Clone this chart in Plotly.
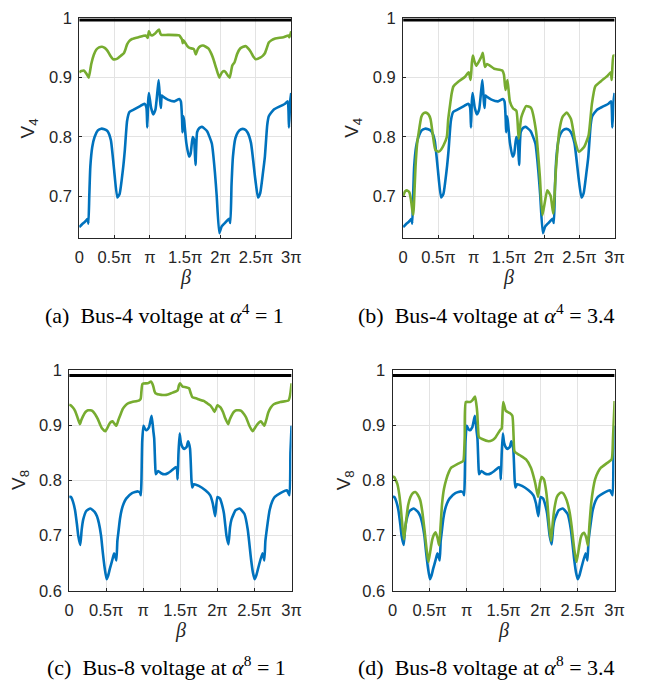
import plotly.graph_objects as go

# beta values are in units of pi
blue4_beta = [0.0, 0.04, 0.08, 0.12, 0.13, 0.142, 0.157, 0.184, 0.217, 0.263, 0.31, 0.355, 0.40, 0.447, 0.493, 0.539, 0.571, 0.618, 0.645, 0.677, 0.71, 0.77, 0.862, 0.922, 0.95, 0.963, 0.975, 0.986, 1.015, 1.046, 1.078, 1.105, 1.124, 1.145, 1.155, 1.168, 1.184, 1.253, 1.346, 1.415, 1.438, 1.455, 1.461, 1.472, 1.484, 1.515, 1.553, 1.576, 1.605, 1.625, 1.645, 1.668, 1.70, 1.737, 1.807, 1.876, 1.92, 1.945, 1.982, 2.014, 2.06, 2.12, 2.138, 2.155, 2.175, 2.21, 2.245, 2.29, 2.337, 2.38, 2.43, 2.49, 2.53, 2.56, 2.60, 2.627, 2.66, 2.682, 2.751, 2.83, 2.913, 2.95, 2.968, 2.985, 3.0]
blue4_v = [0.648, 0.653, 0.657, 0.662, 0.654, 0.70, 0.75, 0.783, 0.80, 0.811, 0.814, 0.813, 0.81, 0.795, 0.745, 0.698, 0.704, 0.745, 0.778, 0.827, 0.842, 0.846, 0.852, 0.856, 0.85, 0.816, 0.86, 0.874, 0.85, 0.838, 0.846, 0.875, 0.896, 0.86, 0.849, 0.87, 0.868, 0.863, 0.86, 0.864, 0.86, 0.83, 0.808, 0.835, 0.828, 0.79, 0.767, 0.772, 0.80, 0.795, 0.753, 0.808, 0.815, 0.817, 0.81, 0.789, 0.74, 0.701, 0.638, 0.649, 0.655, 0.662, 0.655, 0.72, 0.767, 0.798, 0.808, 0.813, 0.813, 0.808, 0.79, 0.73, 0.698, 0.705, 0.74, 0.767, 0.82, 0.835, 0.846, 0.851, 0.856, 0.86, 0.816, 0.86, 0.874]

green4a_beta = [0.0, 0.03, 0.065, 0.10, 0.134, 0.17, 0.205, 0.24, 0.28, 0.323, 0.36, 0.40, 0.44, 0.479, 0.539, 0.59, 0.631, 0.655, 0.677, 0.71, 0.747, 0.839, 0.94, 0.968, 0.986, 1.005, 1.032, 1.069, 1.129, 1.145, 1.161, 1.253, 1.415, 1.44, 1.455, 1.465, 1.475, 1.53, 1.56, 1.622, 1.65, 1.677, 1.715, 1.751, 1.79, 1.83, 1.87, 1.899, 1.94, 1.982, 2.005, 2.028, 2.05, 2.074, 2.10, 2.129, 2.165, 2.198, 2.235, 2.277, 2.32, 2.36, 2.40, 2.429, 2.465, 2.498, 2.567, 2.6, 2.627, 2.655, 2.682, 2.72, 2.774, 2.89, 2.959, 2.973, 3.0]
green4a_v = [0.909, 0.911, 0.912, 0.907, 0.90, 0.923, 0.938, 0.947, 0.951, 0.952, 0.95, 0.945, 0.937, 0.931, 0.932, 0.937, 0.941, 0.948, 0.956, 0.962, 0.965, 0.968, 0.971, 0.967, 0.978, 0.973, 0.971, 0.974, 0.981, 0.975, 0.972, 0.972, 0.971, 0.967, 0.964, 0.958, 0.963, 0.953, 0.95, 0.948, 0.939, 0.948, 0.953, 0.954, 0.952, 0.949, 0.94, 0.931, 0.915, 0.90, 0.906, 0.91, 0.911, 0.909, 0.904, 0.90, 0.92, 0.926, 0.94, 0.949, 0.952, 0.953, 0.948, 0.943, 0.935, 0.931, 0.934, 0.937, 0.941, 0.95, 0.959, 0.963, 0.966, 0.968, 0.971, 0.968, 0.978]

green4b_beta = [0.0, 0.025, 0.051, 0.088, 0.11, 0.134, 0.145, 0.155, 0.176, 0.2, 0.218, 0.259, 0.29, 0.324, 0.36, 0.389, 0.42, 0.458, 0.505, 0.54, 0.574, 0.62, 0.64, 0.667, 0.69, 0.713, 0.782, 0.875, 0.93, 0.958, 0.975, 0.99, 1.01, 1.037, 1.074, 1.11, 1.13, 1.15, 1.162, 1.19, 1.292, 1.407, 1.43, 1.452, 1.48, 1.514, 1.56, 1.607, 1.639, 1.676, 1.745, 1.814, 1.884, 1.939, 1.976, 2.045, 2.092, 2.129, 2.17, 2.216, 2.262, 2.322, 2.382, 2.438, 2.493, 2.567, 2.631, 2.677, 2.724, 2.807, 2.899, 2.945, 2.959, 2.982, 3.0]
green4b_v = [0.70, 0.708, 0.71, 0.707, 0.695, 0.674, 0.669, 0.69, 0.75, 0.79, 0.805, 0.834, 0.84, 0.841, 0.838, 0.83, 0.805, 0.778, 0.775, 0.779, 0.786, 0.80, 0.83, 0.855, 0.874, 0.885, 0.893, 0.901, 0.909, 0.896, 0.925, 0.937, 0.928, 0.92, 0.927, 0.935, 0.942, 0.925, 0.918, 0.923, 0.915, 0.912, 0.905, 0.879, 0.896, 0.86, 0.848, 0.844, 0.797, 0.833, 0.852, 0.849, 0.811, 0.734, 0.668, 0.71, 0.701, 0.671, 0.75, 0.811, 0.834, 0.841, 0.83, 0.794, 0.775, 0.783, 0.803, 0.855, 0.885, 0.894, 0.903, 0.909, 0.896, 0.937, 0.937]

blue8_beta = [0.0, 0.022, 0.05, 0.079, 0.105, 0.123, 0.15, 0.168, 0.189, 0.233, 0.286, 0.343, 0.375, 0.40, 0.43, 0.453, 0.48, 0.505, 0.525, 0.549, 0.58, 0.606, 0.622, 0.637, 0.65, 0.663, 0.685, 0.707, 0.735, 0.769, 0.848, 0.927, 0.955, 0.967, 0.975, 0.985, 1.002, 1.025, 1.046, 1.076, 1.112, 1.135, 1.147, 1.16, 1.169, 1.2, 1.24, 1.287, 1.33, 1.375, 1.441, 1.455, 1.463, 1.475, 1.49, 1.507, 1.529, 1.551, 1.586, 1.604, 1.63, 1.65, 1.661, 1.683, 1.749, 1.837, 1.903, 1.938, 1.969, 2.0, 2.035, 2.06, 2.088, 2.123, 2.149, 2.17, 2.189, 2.246, 2.299, 2.365, 2.409, 2.453, 2.48, 2.502, 2.525, 2.554, 2.607, 2.62, 2.633, 2.647, 2.66, 2.704, 2.74, 2.774, 2.849, 2.937, 2.972, 2.985, 3.0]
blue8_v = [0.77, 0.77, 0.762, 0.746, 0.72, 0.699, 0.683, 0.71, 0.729, 0.745, 0.749, 0.743, 0.735, 0.723, 0.70, 0.67, 0.64, 0.621, 0.627, 0.64, 0.655, 0.668, 0.662, 0.655, 0.69, 0.705, 0.73, 0.746, 0.758, 0.767, 0.777, 0.78, 0.778, 0.773, 0.80, 0.87, 0.899, 0.893, 0.891, 0.896, 0.917, 0.89, 0.876, 0.83, 0.811, 0.817, 0.813, 0.811, 0.813, 0.817, 0.824, 0.82, 0.802, 0.85, 0.885, 0.868, 0.86, 0.857, 0.861, 0.871, 0.858, 0.80, 0.787, 0.793, 0.79, 0.782, 0.773, 0.758, 0.735, 0.77, 0.767, 0.757, 0.74, 0.699, 0.684, 0.715, 0.729, 0.746, 0.749, 0.739, 0.711, 0.658, 0.632, 0.621, 0.628, 0.643, 0.668, 0.662, 0.655, 0.69, 0.705, 0.746, 0.762, 0.77, 0.777, 0.782, 0.773, 0.85, 0.899]

green8c_beta = [0.0, 0.022, 0.05, 0.079, 0.11, 0.145, 0.165, 0.189, 0.22, 0.255, 0.285, 0.312, 0.35, 0.387, 0.415, 0.444, 0.488, 0.515, 0.54, 0.565, 0.584, 0.61, 0.637, 0.665, 0.694, 0.725, 0.76, 0.8, 0.848, 0.945, 0.965, 0.975, 0.989, 1.059, 1.103, 1.12, 1.134, 1.15, 1.164, 1.243, 1.31, 1.375, 1.463, 1.48, 1.495, 1.53, 1.573, 1.617, 1.64, 1.661, 1.727, 1.815, 1.87, 1.903, 1.935, 1.96, 1.98, 2.0, 2.044, 2.075, 2.101, 2.145, 2.165, 2.189, 2.22, 2.255, 2.29, 2.321, 2.36, 2.387, 2.431, 2.475, 2.51, 2.541, 2.585, 2.61, 2.633, 2.66, 2.686, 2.72, 2.76, 2.849, 2.959, 2.981, 3.0]
green8c_v = [0.937, 0.936, 0.932, 0.926, 0.915, 0.902, 0.91, 0.917, 0.924, 0.927, 0.927, 0.926, 0.92, 0.911, 0.902, 0.894, 0.889, 0.895, 0.902, 0.906, 0.907, 0.903, 0.899, 0.91, 0.92, 0.93, 0.936, 0.94, 0.942, 0.945, 0.948, 0.962, 0.975, 0.976, 0.979, 0.976, 0.971, 0.962, 0.958, 0.955, 0.955, 0.958, 0.963, 0.972, 0.976, 0.97, 0.969, 0.967, 0.958, 0.951, 0.948, 0.944, 0.939, 0.936, 0.93, 0.924, 0.93, 0.936, 0.932, 0.924, 0.914, 0.902, 0.91, 0.917, 0.924, 0.927, 0.927, 0.926, 0.92, 0.914, 0.899, 0.889, 0.896, 0.902, 0.907, 0.903, 0.899, 0.91, 0.923, 0.932, 0.938, 0.942, 0.945, 0.955, 0.976]

green8d_beta = [0.0, 0.022, 0.045, 0.066, 0.09, 0.11, 0.135, 0.154, 0.168, 0.185, 0.21, 0.242, 0.275, 0.308, 0.34, 0.374, 0.40, 0.431, 0.46, 0.484, 0.51, 0.537, 0.56, 0.581, 0.607, 0.629, 0.65, 0.669, 0.695, 0.726, 0.76, 0.792, 0.88, 0.955, 0.965, 0.975, 0.99, 1.047, 1.078, 1.113, 1.13, 1.144, 1.155, 1.166, 1.21, 1.298, 1.35, 1.386, 1.452, 1.474, 1.485, 1.495, 1.531, 1.583, 1.618, 1.635, 1.649, 1.715, 1.803, 1.869, 1.926, 1.966, 1.99, 2.014, 2.045, 2.07, 2.089, 2.115, 2.142, 2.165, 2.19, 2.22, 2.251, 2.285, 2.309, 2.34, 2.366, 2.395, 2.419, 2.455, 2.485, 2.515, 2.542, 2.565, 2.586, 2.617, 2.639, 2.66, 2.683, 2.71, 2.736, 2.775, 2.815, 2.903, 2.96, 2.978, 3.0]
green8d_v = [0.807, 0.806, 0.80, 0.793, 0.775, 0.752, 0.715, 0.693, 0.71, 0.729, 0.755, 0.77, 0.777, 0.779, 0.774, 0.764, 0.745, 0.711, 0.675, 0.652, 0.672, 0.693, 0.702, 0.706, 0.696, 0.682, 0.72, 0.758, 0.785, 0.802, 0.815, 0.823, 0.83, 0.835, 0.845, 0.88, 0.942, 0.942, 0.945, 0.952, 0.94, 0.923, 0.895, 0.879, 0.875, 0.871, 0.873, 0.877, 0.891, 0.894, 0.92, 0.942, 0.926, 0.922, 0.917, 0.88, 0.852, 0.846, 0.838, 0.823, 0.796, 0.77, 0.795, 0.806, 0.802, 0.785, 0.764, 0.72, 0.69, 0.725, 0.752, 0.77, 0.776, 0.778, 0.776, 0.768, 0.758, 0.74, 0.717, 0.675, 0.652, 0.675, 0.696, 0.703, 0.705, 0.696, 0.682, 0.72, 0.758, 0.785, 0.802, 0.815, 0.823, 0.832, 0.838, 0.876, 0.944]

limit_beta = [0.0, 3.0]
limit4_v = [0.997, 0.997]
limit8_v = [0.99, 0.99]

tick_vals = [0, 0.5, 1, 1.5, 2, 2.5, 3]
tick_text = ["0", "0.5π", "π", "1.5π", "2π", "2.5π", "3π"]

W, H = 651, 691
BLUE = "#0072BD"
GREEN = "#77AC30"
SANS = "Liberation Sans, Arial, sans-serif"
SERIF = "Liberation Serif, Times New Roman, serif"

# panel boxes in pixels: (left, right, top, bottom)
panels = {
    "a": (76, 293, 9.5, 235),
    "b": (407.5, 624, 9.5, 235),
    "c": (65.7, 293.3, 370.7, 597.3),
    "d": (396.7, 624, 370.7, 597.3),
}

fig = go.Figure()

series = [
    ("a", [(blue4_beta, blue4_v, BLUE, 2.6), (green4a_beta, green4a_v, GREEN, 2.6), (limit_beta, limit4_v, "black", 3)]),
    ("b", [(blue4_beta, blue4_v, BLUE, 2.6), (green4b_beta, green4b_v, GREEN, 2.6), (limit_beta, limit4_v, "black", 3)]),
    ("c", [(blue8_beta, blue8_v, BLUE, 2.6), (green8c_beta, green8c_v, GREEN, 2.6), (limit_beta, limit8_v, "black", 3)]),
    ("d", [(blue8_beta, blue8_v, BLUE, 2.6), (green8d_beta, green8d_v, GREEN, 2.6), (limit_beta, limit8_v, "black", 3)]),
]

for i, (key, lines) in enumerate(series):
    sfx = "" if i == 0 else str(i + 1)
    for xs, ys, col, w in lines:
        fig.add_trace(go.Scatter(x=xs, y=ys, mode="lines", xaxis="x" + sfx, yaxis="y" + sfx,
                                 line=dict(color=col, width=w, shape="spline", smoothing=0.5),
                                 showlegend=False, hoverinfo="skip"))

yranges = {"a": [0.63, 1.0], "b": [0.63, 1.0], "c": [0.6, 1.0], "d": [0.6, 1.0]}
ytick = {"a": [0.7, 0.8, 0.9, 1.0], "b": [0.7, 0.8, 0.9, 1.0], "c": [0.6, 0.7, 0.8, 0.9, 1.0], "d": [0.6, 0.7, 0.8, 0.9, 1.0]}
ytext = {"a": ["0.7", "0.8", "0.9", "1"], "b": ["0.7", "0.8", "0.9", "1"],
         "c": ["0.6", "0.7", "0.8", "0.9", "1"], "d": ["0.6", "0.7", "0.8", "0.9", "1"]}

axis_common = dict(showline=True, mirror=True, linecolor="#262626", linewidth=1,
                   showgrid=True, gridcolor="#e3e3e3", gridwidth=1, zeroline=False,
                   ticks="inside", ticklen=3, tickcolor="#262626",
                   tickfont=dict(family=SANS, size=16.5, color="#262626"))

for i, key in enumerate(["a", "b", "c", "d"]):
    l, r, t, b = panels[key]
    sfx = "" if i == 0 else str(i + 1)
    fig.layout["xaxis" + sfx] = dict(domain=[l / W, r / W], anchor="y" + sfx, range=[0, 3],
                                     tickvals=tick_vals, ticktext=tick_text, ticklabelstandoff=4, **axis_common)
    fig.layout["yaxis" + sfx] = dict(domain=[1 - b / H, 1 - t / H], anchor="x" + sfx, range=yranges[key],
                                     tickvals=ytick[key], ticktext=ytext[key], ticklabelstandoff=3, **axis_common)

annotations = []
ylab = {"a": ("V<sub>4</sub>", 25), "b": ("V<sub>4</sub>", 356), "c": ("V<sub>8</sub>", 16), "d": ("V<sub>8</sub>", 348)}
captions = {
    "a": ("(a)  Bus-4 voltage at <i>α</i><sup>4</sup> = 1", 163.5, 313),
    "b": ("(b)  Bus-4 voltage at <i>α</i><sup>4</sup> = 3.4", 493, 313),
    "c": ("(c)  Bus-8 voltage at <i>α</i><sup>8</sup> = 1", 165, 675),
    "d": ("(d)  Bus-8 voltage at <i>α</i><sup>8</sup> = 3.4", 492.5, 675),
}
for key in ["a", "b", "c", "d"]:
    l, r, t, b = panels[key]
    txt, xp = ylab[key]
    annotations.append(dict(text=txt, x=xp / W, y=1 - ((t + b) / 2) / H, xref="paper", yref="paper",
                            xanchor="center", yanchor="middle", textangle=-90, showarrow=False,
                            font=dict(family=SANS, size=19, color="#262626")))
    annotations.append(dict(text="<i>β</i>", x=((l + r) / 2) / W, y=1 - (b + 41) / H, xref="paper", yref="paper",
                            xanchor="center", yanchor="middle", showarrow=False,
                            font=dict(family=SERIF, size=20, color="#262626")))
    ct, cx, cy = captions[key]
    annotations.append(dict(text=ct, x=cx / W, y=1 - cy / H, xref="paper", yref="paper",
                            xanchor="center", yanchor="middle", showarrow=False,
                            font=dict(family=SERIF, size=22, color="black")))

fig.update_layout(width=W, height=H, margin=dict(l=0, r=0, t=0, b=0),
                  paper_bgcolor="white", plot_bgcolor="white", annotations=annotations)

fig.write_html("out.html")
